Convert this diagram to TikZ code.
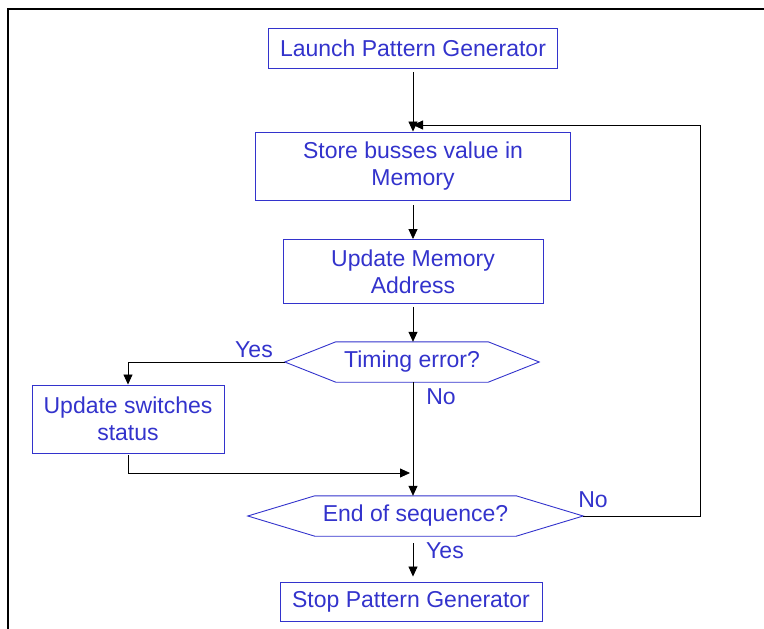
\documentclass[tikz,border=0pt]{standalone}
\usepackage{fontspec}
\setmainfont{Liberation Sans}
\usetikzlibrary{arrows.meta}
\definecolor{flowblue}{RGB}{51,51,204}
\tikzset{
  box/.style={draw=flowblue, text=flowblue, line width=0.9pt, align=center, inner sep=0pt},
  hexnode/.style={text=flowblue, inner sep=0pt, minimum height=40pt},
  hexline/.style={draw=flowblue, line width=0.9pt},
  lbl/.style={text=flowblue, inner sep=0pt},
  arr/.style={-{Triangle[length=10pt,width=9pt]}, line width=0.8pt},
}
\begin{document}
\begin{tikzpicture}[x=1pt,y=-1pt,font=\fontsize{23}{27}\selectfont]
   \useasboundingbox (0,0) rectangle (764,629);
   \draw[line width=2.5pt] (764,9) -- (8,9) -- (8,629);
   % boxes
   \node[box, minimum width=289pt, minimum height=40pt] (launch) at (413,48) {Launch Pattern Generator};
   \node[box, minimum width=315pt, minimum height=68pt] (store) at (413,166) {Store busses value in\\Memory};
   \node[box, minimum width=260pt, minimum height=64pt] (addr) at (413,271.5) {Update Memory\\Address};
   \node[box, minimum width=192pt, minimum height=68pt] (switches) at (128,419) {Update switches\\status};
   \node[box, minimum width=262pt, minimum height=39pt] (stop) at (411,601.5) {Stop Pattern Generator};
   % decisions
   \node[hexnode, minimum width=254pt] (timing) at (412,362) {Timing error?};
   \draw[hexline] (timing.west) -- ([xshift=51pt]timing.north west) -- ([xshift=-51pt]timing.north east)
      -- (timing.east) -- ([xshift=-51pt]timing.south east) -- ([xshift=51pt]timing.south west) -- cycle;
   \node[hexnode, minimum width=335pt] (endseq) at (415.5,516) {End of sequence?};
   \draw[hexline] (endseq.west) -- ([xshift=67pt]endseq.north west) -- ([xshift=-67pt]endseq.north east)
      -- (endseq.east) -- ([xshift=-67pt]endseq.south east) -- ([xshift=67pt]endseq.south west) -- cycle;
   % labels
   \node[lbl] (yes1) at (254,350) {Yes};
   \node[lbl] (no1) at (441,397) {No};
   \node[lbl] (no2) at (593,500) {No};
   \node[lbl] (yes2) at (445,551) {Yes};
   % connectors
   \coordinate (loop) at (413,125);
   \coordinate (merge) at (413,473);
   \coordinate (corner) at (700,516);
   \draw[arr, shorten <=4pt] (launch.south) -- (store.north);
   \draw[arr, shorten <=5pt] (store.south) -- (addr.north);
   \draw[arr, shorten <=3pt] (addr.south) -- ([xshift=1pt]timing.north);
   \draw[arr] (timing.west) -| (switches.north);
   \draw[arr] ([xshift=1pt]timing.south) -- ([xshift=1pt]timing.south |- endseq.north);
   \draw[arr, shorten <=2pt, shorten >=3pt] (switches.south) |- (merge);
   \draw[arr] (endseq.east) -- (corner) |- (loop);
   \draw[arr, shorten <=7pt, shorten >=5pt] ([xshift=-2.5pt]endseq.south) -- ([xshift=-2.5pt]endseq.south |- stop.north);
\end{tikzpicture}
\end{document}
